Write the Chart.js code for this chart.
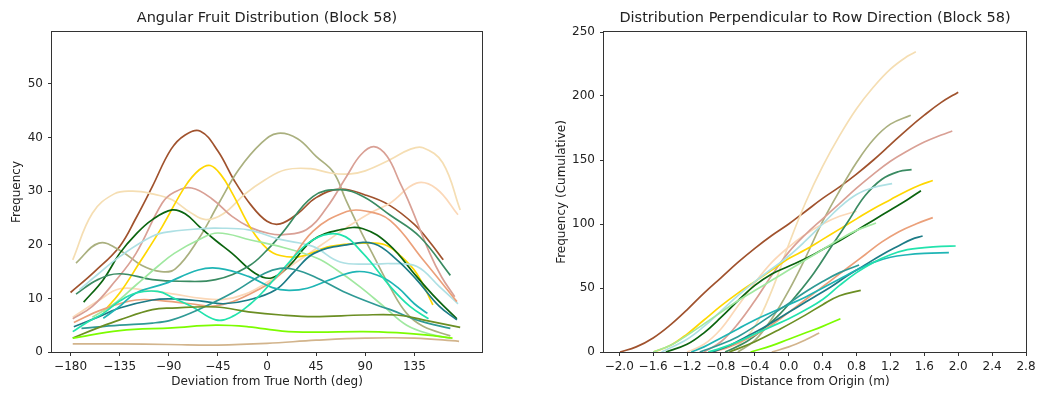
<!DOCTYPE html>
<html>
<head>
<meta charset="utf-8">
<script src="https://cdn.jsdelivr.net/npm/chart.js@4.4.0/dist/chart.umd.min.js"></script>
<style>
  html, body { margin: 0; padding: 0; background: #fff; }
  #wrap { position: relative; width: 1054px; height: 394px; }
  .panel { position: absolute; top: 0; width: 527px; height: 394px; }
</style>
</head>
<body>
<div id="wrap">
  <div class="panel" style="left:0"><canvas id="angular" width="527" height="394"></canvas></div>
  <div class="panel" style="left:527px"><canvas id="perp" width="527" height="394"></canvas></div>
</div>
<script>
// ---- Angular distribution: [deviation (deg), frequency] per tree ----
const angSienna = [[-180,11.1],[-158,15],[-135,19.7],[-120,25],[-105,30.9],[-88,37.8],[-75,40.5],[-61,41.2],[-45,37.5],[-30,32],[-15,27.5],[0,24.4],[12,23.9],[28,25.8],[45,28.8],[67,30.4],[90,29.3],[112,27.4],[135,23.8],[150,20.3],[161.5,17.2]];
const angKhaki = [[-175,16.6],[-154,20.3],[-135,19],[-115,16.2],[-97,15],[-84,15.5],[-63,21],[-44,27.8],[-26,34],[-5,39],[10,40.8],[28,39.8],[45,36.5],[61,33.5],[72,28.5],[86,22.5],[98,17.8],[113,12],[128,7.2],[143,4.8],[168,3]];
const angWheat = [[-178,17.2],[-160,25.9],[-140,29.5],[-123,30],[-105,29.5],[-87,28.4],[-70,26],[-56,24.7],[-40,25.8],[-20,29.5],[-2,32.1],[17,34],[40,34.2],[58,33.4],[75,33.2],[90,33.8],[113,35.9],[131,37.8],[143,38.1],[161,35.3],[177,26.5]];
const angPeach = [[-178,6.5],[-155,9.5],[-135,11.8],[-110,11.5],[-85,10.8],[-60,10],[-40,9.8],[-20,10.8],[0,13],[25,16.5],[50,20],[75,23.5],[95,26],[113,27.8],[137,31.5],[155,30.5],[175,25.6]];
const angPink = [[-178,6.2],[-160,8.5],[-140,13],[-120,18.4],[-96,27.8],[-85,29.8],[-69,30.6],[-50,28.5],[-32,25.3],[-15,23.2],[2,22.1],[15,21.9],[36,22.8],[55,27],[73,32.8],[86,36.8],[98,38.3],[110,36.5],[122,31.5],[131,27.5],[149,18.5],[160,14],[172,10.3]];
const angGold = [[-150,7.5],[-135,11],[-117,16.6],[-96,23.4],[-75,30.9],[-62,34],[-52,34.8],[-42,33],[-32,29.7],[-14,22.8],[0,19.3],[12,18],[30,17.8],[58,19.7],[88,20.3],[108,20],[122,18],[137,14.7],[152,8.8]];
const angDarkGreen = [[-168,9.3],[-150,13.5],[-135,18.4],[-120,22],[-105,24.7],[-87,26.5],[-75,25.8],[-62,23.4],[-47,20.8],[-32,18.4],[-11,14.7],[4,13.8],[20,16],[42,20.9],[67,22.8],[88,23],[112,20],[137,14.1],[155,10],[174,6.2]];
const angSeaGreen = [[-175,10.8],[-155,13.5],[-135,14.6],[-105,13.5],[-80,13.2],[-47,13.5],[-17,16],[0,19],[14,22.2],[42,29],[67,30.3],[88,29],[113,25.5],[140,21.5],[168,14.3]];
const angPaleTurq = [[-172,11.6],[-155,14.5],[-135,17.8],[-105,21.6],[-87,22.5],[-60,23],[-47,23.1],[-17,22.8],[12,21],[42,19.7],[67,16.8],[97,16.4],[113,16.5],[137,16],[158,12.2],[175,9]];
const angLightGreen = [[-160,6.5],[-140,9],[-120,12.5],[-100,16],[-85,18.4],[-63,20.9],[-45,22.2],[-15,20.9],[15,19.5],[46,17.5],[64,15.3],[85,12.2],[107,8.5],[128,5],[150,3.3],[168,2.6]];
const angSandy = [[-177,5.5],[-151,7.9],[-120,9.7],[-93,9.5],[-70,9],[-47,8.6],[-17,10.7],[12,14.5],[42,22.5],[73,26.2],[90,26.3],[113,24.5],[143,17.2],[174,9.4]];
const angTealA = [[-150,6.3],[-135,8.5],[-120,11],[-93,12.8],[-63,15.3],[-44,15.6],[-17,14.1],[5,12],[20,11.5],[37,11.9],[58,13.5],[82,15],[104,14.1],[120,12],[135,9],[147,7.2]];
const angTealB = [[-170,4.4],[-135,5],[-105,5.4],[-87,6],[-63,7.9],[-32,11],[-2,14.7],[12,15.6],[25,15.4],[43,14.1],[73,11],[104,8.5],[113,7.9],[140,5.8],[168,4.4]];
const angTealC = [[-177,4.7],[-155,6.5],[-135,8.2],[-105,9.7],[-87,9.9],[-60,9.5],[-40,9],[-17,9.7],[8,11.6],[25,15],[43,18.4],[73,20],[98,20.2],[119,17.2],[137,13.5],[158,8.5],[174,6]];
const angTealD = [[-178,3.8],[-165,5.5],[-150,7.2],[-135,9.5],[-120,11],[-100,11.3],[-85,10],[-69,8.5],[-47,6],[-32,6.6],[-15,9],[-2,11.6],[17,16],[42,20.9],[67,21.9],[88,18.4],[113,12.2],[131,8.5],[148,6.2]];
const angOlive = [[-178,2.6],[-155,4.5],[-135,6],[-105,7.9],[-87,8.2],[-47,8.4],[-17,7.5],[13,6.9],[43,6.6],[88,6.9],[119,6.9],[143,6],[177,4.6]];
const angLawn = [[-178,2.6],[-135,4],[-87,4.5],[-47,5],[-17,4.7],[14,3.9],[43,3.7],[88,3.8],[119,3.6],[145,3.2],[170,2.6]];
const angTan = [[-178,1.5],[-135,1.5],[-90,1.4],[-45,1.3],[0,1.6],[45,2.2],[90,2.6],[135,2.6],[176,2.0]];

// ---- Cumulative counts across the row: [distance (m), cumulative frequency] ----
const cumSienna = [[-1.99,0],[-1.8,4],[-1.6,11],[-1.4,21],[-1.2,33],[-1.0,46],[-0.8,58],[-0.6,70],[-0.4,81],[-0.2,91],[0,100],[0.2,110],[0.4,120],[0.6,129],[0.8,139],[1.0,150],[1.2,162],[1.4,174],[1.6,185],[1.8,195],[2.0,203]];
const cumKhaki = [[-0.6,0],[-0.4,9],[-0.2,26],[0,48],[0.2,74],[0.4,102],[0.6,126],[0.8,148],[1.0,166],[1.2,178],[1.44,185]];
const cumWheat = [[-0.75,0],[-0.6,5],[-0.4,20],[-0.2,48],[0,84],[0.2,117],[0.4,145],[0.6,169],[0.8,190],[1.0,207],[1.2,221],[1.4,231],[1.5,234.5]];
const cumPeach = [[-1.2,0],[-1.0,6],[-0.8,18],[-0.6,36],[-0.4,54],[-0.2,70],[0,82],[0.2,92],[0.4,100],[0.6,106],[0.8,110]];
const cumPink = [[-1.0,0],[-0.8,8],[-0.6,22],[-0.4,40],[-0.2,60],[0,78],[0.2,92],[0.4,104],[0.6,116],[0.8,128],[1.0,139],[1.2,149],[1.4,157],[1.6,164],[1.8,169.5],[1.93,172.7]];
const cumGold = [[-1.6,0],[-1.4,5],[-1.2,14],[-1.0,25],[-0.8,36],[-0.6,46],[-0.4,55],[-0.2,64],[0,73],[0.2,80],[0.4,88],[0.6,96],[0.8,104],[1.0,112],[1.2,119],[1.4,126],[1.55,130.5],[1.7,134]];
const cumDarkGreen = [[-1.45,0],[-1.2,6],[-1.0,15],[-0.8,27],[-0.6,40],[-0.4,52],[-0.2,61],[0,67],[0.2,73],[0.4,80],[0.6,87],[0.8,95],[1.0,103],[1.2,111],[1.4,119],[1.56,126]];
const cumSeaGreen = [[-0.75,0],[-0.5,8],[-0.3,18],[-0.1,30],[0.1,45],[0.3,62],[0.5,82],[0.7,102],[0.9,122],[1.1,135],[1.3,141],[1.45,142.5]];
const cumPaleTurq = [[-1.5,0],[-1.2,10],[-1.0,20],[-0.8,32],[-0.6,44],[-0.4,55],[-0.2,65],[0,75],[0.2,87],[0.4,100],[0.6,113],[0.8,123],[1.0,128.5],[1.22,131.5]];
const cumLightGreen = [[-1.6,0],[-1.4,5],[-1.2,13],[-1.0,22],[-0.8,31],[-0.6,40],[-0.4,48],[-0.2,56],[0,64],[0.2,72],[0.4,80],[0.6,88],[0.8,95],[1.03,100.8]];
const cumSandy = [[-0.9,0],[-0.7,4],[-0.5,10],[-0.3,17],[-0.1,26],[0.1,36],[0.3,46],[0.5,56],[0.7,66],[0.9,76],[1.1,86],[1.3,94],[1.5,100],[1.7,105]];
const cumTealA = [[-1.15,0],[-1.0,4],[-0.8,11],[-0.6,18],[-0.4,25],[-0.2,31],[0,37],[0.2,43],[0.4,50],[0.6,57],[0.8,64],[1.0,70],[1.2,74],[1.4,76],[1.6,77],[1.89,77.6]];
const cumTealB = [[-1.05,0],[-0.8,6],[-0.6,12],[-0.4,20],[-0.2,29],[0,38],[0.2,47],[0.4,55],[0.6,62],[0.83,68]];
const cumTealC = [[-0.9,0],[-0.7,5],[-0.5,12],[-0.3,19],[-0.1,27],[0.1,35],[0.3,43],[0.5,51],[0.7,60],[0.9,68],[1.1,76],[1.3,83],[1.45,88],[1.58,90.6]];
const cumTealD = [[-0.95,0],[-0.8,3],[-0.6,8],[-0.4,14],[-0.2,20],[0,26],[0.2,33],[0.4,41],[0.6,52],[0.8,62],[1.0,70],[1.2,76],[1.4,80],[1.6,81.5],[1.8,82.5],[1.97,82.8]];
const cumOlive = [[-0.7,0],[-0.4,8],[-0.1,18],[0.2,29],[0.4,37],[0.6,44],[0.85,48.2]];
const cumLawn = [[-0.45,0],[-0.2,5],[0,10],[0.2,15],[0.4,20],[0.61,26]];
const cumTan = [[-0.2,0],[0,4],[0.2,9.5],[0.36,14.8]];

// ---- Tick labels ----
const angleTicks = [-180, -135, -90, -45, 0, 45, 90, 135];
const freqTicks = [0, 10, 20, 30, 40, 50];
const distTicks = [-2.0, -1.6, -1.2, -0.8, -0.4, 0.0, 0.4, 0.8, 1.2, 1.6, 2.0, 2.4, 2.8];
const cumTicks = [0, 50, 100, 150, 200, 250];

// ---- Per-tree line colours (same tree, same colour in both panels) ----
const trees = [
  { ang: angTan,        cum: cumTan,        color: '#d2b48c' },
  { ang: angLawn,       cum: cumLawn,       color: '#7cfc00' },
  { ang: angOlive,      cum: cumOlive,      color: '#6b8e23' },
  { ang: angTealB,      cum: cumTealB,      color: '#2f9a95' },
  { ang: angTealD,      cum: cumTealD,      color: '#22e3ad' },
  { ang: angTealA,      cum: cumTealA,      color: '#1fb5b5' },
  { ang: angTealC,      cum: cumTealC,      color: '#1c7b86' },
  { ang: angSandy,      cum: cumSandy,      color: '#eba07a' },
  { ang: angLightGreen, cum: cumLightGreen, color: '#a0e8a0' },
  { ang: angPaleTurq,   cum: cumPaleTurq,   color: '#aee0e4' },
  { ang: angSeaGreen,   cum: cumSeaGreen,   color: '#3a8b62' },
  { ang: angDarkGreen,  cum: cumDarkGreen,  color: '#0b640f' },
  { ang: angGold,       cum: cumGold,       color: '#ffd700' },
  { ang: angPink,       cum: cumPink,       color: '#d9a095' },
  { ang: angPeach,      cum: cumPeach,      color: '#fbd8b8' },
  { ang: angWheat,      cum: cumWheat,      color: '#f5deb3' },
  { ang: angKhaki,      cum: cumKhaki,      color: '#aab07f' },
  { ang: angSienna,     cum: cumSienna,     color: '#a0522d' }
];

const FONT = 'DejaVu Sans';
const TEXT = '#222';
const signed = v => (v < 0 ? '\u2212' : '') + Math.abs(v);
const signed1 = v => (v < -1e-9 ? '\u2212' : '') + Math.abs(v).toFixed(1);

// full rectangular frame around the plotting area
const framePlugin = {
  id: 'frame',
  afterDraw(chart) {
    const a = chart.chartArea, ctx = chart.ctx;
    ctx.save();
    ctx.strokeStyle = '#333';
    ctx.lineWidth = 1;
    ctx.strokeRect(Math.round(a.left) - 0.5, Math.round(a.top) - 0.5,
                   Math.round(a.right - a.left) + 1, Math.round(a.bottom - a.top) + 1);
    ctx.restore();
  }
};

function toXY(pairs) { return pairs.map(p => ({ x: p[0], y: p[1] })); }

function makeDatasets(key) {
  return trees.map(t => ({
    data: toXY(t[key]),
    borderColor: t.color,
    borderWidth: 1.7,
    pointRadius: 0,
    fill: false,
    tension: 0.4
  }));
}

function axis(opts) {
  return {
    type: 'linear',
    min: opts.min, max: opts.max,
    afterBuildTicks: s => { s.ticks = opts.ticks.map(v => ({ value: v })); },
    afterFit: opts.fit,
    ticks: {
      font: { family: FONT, size: 12 }, color: TEXT, padding: opts.pad,
      maxRotation: 0, autoSkip: false, callback: opts.fmt
    },
    grid: { display: true, drawOnChartArea: false, drawTicks: true, tickLength: 4, color: '#333' },
    border: { display: false },
    title: {
      display: true, text: opts.title, color: TEXT,
      font: { family: FONT, size: 12 }, padding: opts.titlePad
    }
  };
}

function makeChart(id, key, title, xOpts, yOpts, padRight) {
  return new Chart(document.getElementById(id), {
    type: 'line',
    data: { datasets: makeDatasets(key) },
    options: {
      responsive: false,
      animation: false,
      events: [],
      layout: { padding: { left: 0, right: padRight, top: 0, bottom: 0 } },
      plugins: {
        legend: { display: false },
        tooltip: { enabled: false },
        title: {
          display: true, text: title, color: TEXT, fullSize: false,
          font: { family: FONT, size: 14.5, weight: 'normal', lineHeight: 1.2 },
          padding: { top: 9.3, bottom: 5.3 }
        }
      },
      scales: { x: axis(xOpts), y: axis(yOpts) }
    },
    plugins: [framePlugin]
  });
}

makeChart('angular', 'ang', 'Angular Fruit Distribution (Block 58)',
  { min: -197, max: 197, ticks: angleTicks, fmt: v => signed(v), pad: 3.5,
    fit: s => { s.height = 42; }, title: 'Deviation from True North (deg)', titlePad: { top: 0, bottom: 5 } },
  { min: 0, max: 59.7, ticks: freqTicks, fmt: v => String(v), pad: 5,
    fit: s => { s.width = 52; }, title: 'Frequency', titlePad: { top: 9.5, bottom: 0 } },
  45);

makeChart('perp', 'cum', 'Distribution Perpendicular to Row Direction (Block 58)',
  { min: -2.18, max: 2.8, ticks: distTicks, fmt: v => signed1(v), pad: 3.5,
    fit: s => { s.height = 42; }, title: 'Distance from Origin (m)', titlePad: { top: 0, bottom: 5 } },
  { min: 0, max: 250, ticks: cumTicks, fmt: v => String(v), pad: 5,
    fit: s => { s.width = 77; }, title: 'Frequency (Cumulative)', titlePad: { top: 27.5, bottom: 0 } },
  28);
</script>
</body>
</html>
